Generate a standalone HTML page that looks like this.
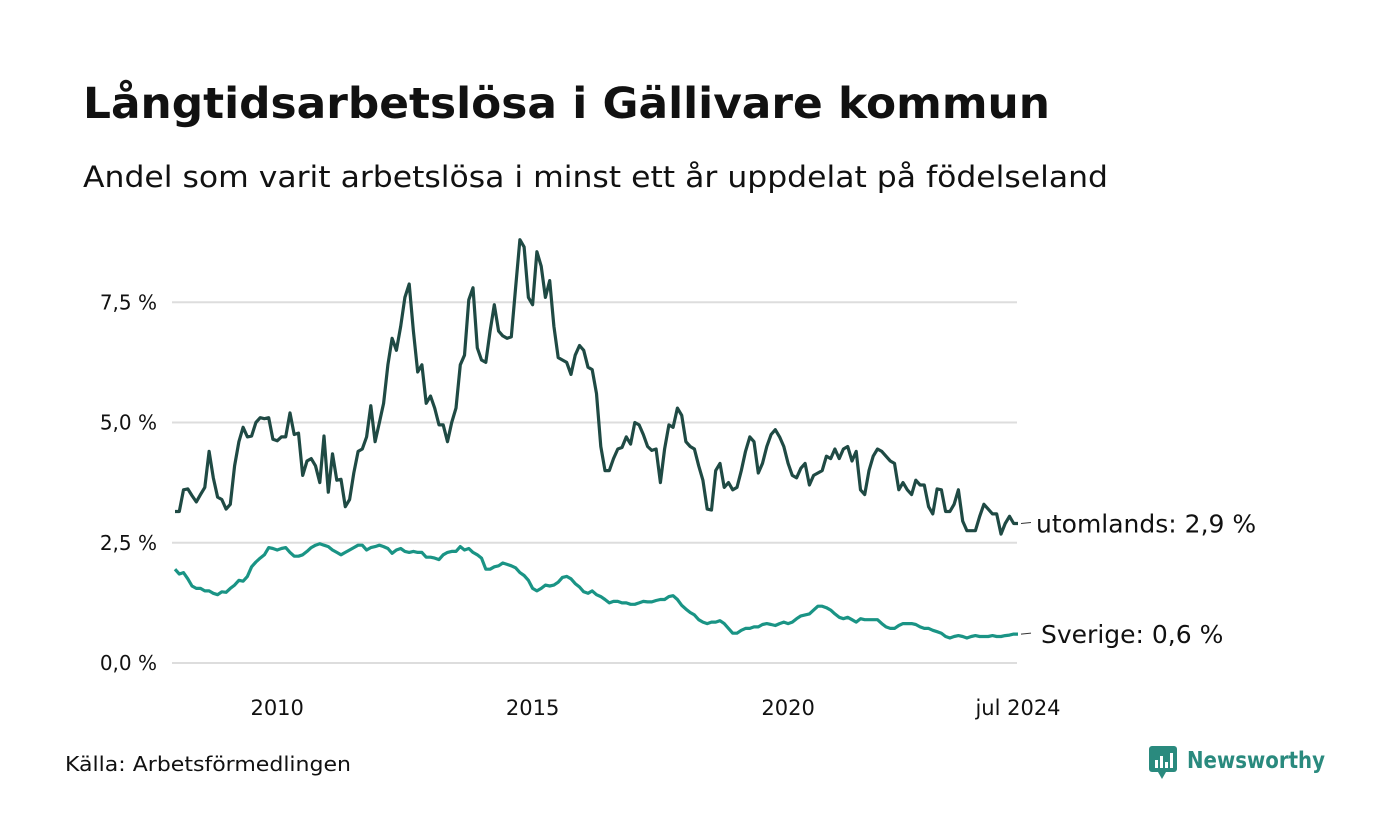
<!DOCTYPE html>
<html><head><meta charset="utf-8"><style>
body{margin:0;background:#fff;font-family:"DejaVu Sans","Liberation Sans",sans-serif;}
svg{display:block}
</style></head><body>
<svg id="c" width="1400" height="840" xmlns="http://www.w3.org/2000/svg" font-family="DejaVu Sans, Liberation Sans, sans-serif">
<text x="83" y="118" font-size="43" font-weight="bold" fill="#111" textLength="967" lengthAdjust="spacingAndGlyphs">Långtidsarbetslösa i Gällivare kommun</text>
<text x="83" y="187" font-size="29" fill="#111" textLength="1025" lengthAdjust="spacingAndGlyphs">Andel som varit arbetslösa i minst ett år uppdelat på födelseland</text>
<g id="grid"></g><g id="lines"></g>
<text x="65" y="771" font-size="20" fill="#111" textLength="286" lengthAdjust="spacingAndGlyphs">Källa: Arbetsförmedlingen</text>
<g>
<rect x="1149" y="746" width="28" height="26" rx="3" fill="#2a8a7e"/>
<polygon points="1158,772 1166,772 1162,779" fill="#2a8a7e"/>
<rect x="1155" y="760" width="3" height="8" fill="#fff"/><rect x="1160" y="756" width="3" height="12" fill="#fff"/><rect x="1165" y="762" width="3" height="6" fill="#fff"/><rect x="1170" y="753" width="3" height="15" fill="#fff"/>
<text x="1187" y="768" font-size="23" font-weight="bold" fill="#2a8a7e" textLength="138" lengthAdjust="spacingAndGlyphs">Newsworthy</text>
</g>
</svg>
<script>
const utomlands=[3.15,3.15,3.6,3.62,3.48,3.35,3.5,3.65,4.4,3.85,3.45,3.4,
3.2,3.3,4.1,4.6,4.9,4.7,4.72,5.0,5.1,5.08,5.1,4.65,
4.62,4.7,4.7,5.2,4.75,4.78,3.9,4.2,4.25,4.1,3.75,4.72,
3.55,4.35,3.8,3.82,3.25,3.4,3.95,4.4,4.45,4.7,5.35,4.6,
5.0,5.4,6.2,6.75,6.5,7.0,7.6,7.88,6.9,6.05,6.2,5.4,
5.55,5.3,4.95,4.95,4.6,5.0,5.3,6.2,6.4,7.55,7.8,6.55,
6.3,6.25,6.9,7.45,6.9,6.8,6.75,6.78,7.8,8.8,8.65,7.6,
7.45,8.55,8.25,7.6,7.95,7.0,6.35,6.3,6.25,6.0,6.4,6.6,
6.5,6.15,6.1,5.6,4.5,4.0,4.0,4.25,4.45,4.48,4.7,4.55,
5.0,4.95,4.75,4.5,4.42,4.45,3.75,4.45,4.95,4.9,5.3,5.15,
4.6,4.5,4.45,4.1,3.8,3.2,3.18,4.0,4.15,3.65,3.75,3.6,
3.65,4.0,4.4,4.7,4.6,3.95,4.15,4.5,4.75,4.85,4.7,4.5,
4.15,3.9,3.85,4.05,4.15,3.7,3.9,3.95,4.0,4.3,4.25,4.45,
4.25,4.45,4.5,4.2,4.4,3.6,3.5,4.0,4.3,4.45,4.4,4.3,
4.2,4.15,3.6,3.75,3.6,3.5,3.8,3.7,3.7,3.25,3.1,3.62,
3.6,3.15,3.15,3.3,3.6,2.95,2.75,2.75,2.75,3.05,3.3,3.2,
3.1,3.1,2.68,2.9,3.05,2.9,2.9];
const sverige=[1.95,1.85,1.88,1.75,1.6,1.55,1.55,1.5,1.5,1.45,1.42,1.48,
1.47,1.55,1.62,1.72,1.7,1.8,2.0,2.1,2.18,2.25,2.4,2.38,
2.35,2.38,2.4,2.3,2.22,2.22,2.25,2.32,2.4,2.45,2.48,2.45,
2.42,2.35,2.3,2.25,2.3,2.35,2.4,2.45,2.45,2.35,2.4,2.42,
2.45,2.42,2.38,2.28,2.35,2.38,2.32,2.3,2.32,2.3,2.3,2.2,
2.2,2.18,2.15,2.25,2.3,2.32,2.32,2.42,2.35,2.38,2.3,2.25,
2.18,1.95,1.95,2.0,2.02,2.08,2.05,2.02,1.98,1.88,1.82,1.72,
1.55,1.5,1.55,1.62,1.6,1.62,1.68,1.78,1.8,1.75,1.65,1.58,
1.48,1.45,1.5,1.42,1.38,1.32,1.25,1.28,1.28,1.25,1.25,1.22,
1.22,1.25,1.28,1.27,1.27,1.3,1.32,1.32,1.38,1.4,1.32,1.2,
1.12,1.05,1.0,0.9,0.85,0.82,0.85,0.85,0.88,0.82,0.72,0.62,
0.62,0.68,0.72,0.72,0.75,0.75,0.8,0.82,0.8,0.78,0.82,0.85,
0.82,0.85,0.92,0.98,1.0,1.02,1.1,1.18,1.18,1.15,1.1,1.02,
0.95,0.92,0.95,0.9,0.85,0.92,0.9,0.9,0.9,0.9,0.82,0.75,
0.72,0.72,0.78,0.82,0.82,0.82,0.8,0.75,0.72,0.72,0.68,0.65,
0.62,0.55,0.52,0.55,0.57,0.55,0.52,0.55,0.57,0.55,0.55,0.55,
0.57,0.55,0.55,0.57,0.58,0.6,0.6];
const yTicks=[0,2.5,5,7.5];
const yTickLabels=["0,0 %","2,5 %","5,0 %","7,5 %"];
const xTicks=[2010,2015,2020,2024.5];
const xTickLabels=["2010","2015","2020","jul 2024"];
const startYear=2008;
const seriesLabels=["utomlands: 2,9 %","Sverige: 0,6 %"];

const NS="http://www.w3.org/2000/svg";
const x0=175,x1=1018,xStartV=2008.0,xEndV=2024.5;
const X=v=>x0+(v-xStartV)/(xEndV-xStartV)*(x1-x0);
const Y=v=>663-v*48.1;
const grid=document.getElementById('grid'),lines=document.getElementById('lines');
function mk(tag,attrs,parent){const e=document.createElementNS(NS,tag);for(const k in attrs)e.setAttribute(k,attrs[k]);parent.appendChild(e);return e;}
yTicks.forEach((t,i)=>{
 const l=mk('line',{x1:172,x2:1017,y1:Y(t),y2:Y(t),stroke:'#dddddd','stroke-width':2},grid);
 
 
 const tx=mk('text',{x:157,y:Y(t)+7,'text-anchor':'end','font-size':20,fill:'#111'},grid);
 tx.textContent=yTickLabels[i];
 
 
});
xTicks.forEach((t,i)=>{
 const tx=mk('text',{x:X(t),y:715,'text-anchor':'middle','font-size':21,fill:'#111'},grid);
 tx.textContent=xTickLabels[i];
 
 
});
function draw(data,color,name,label,dx){
 const pts=data.map((v,i)=>X(startYear+i/12).toFixed(1)+','+Y(v).toFixed(1)).join(' ');
 const p=mk('polyline',{points:pts,fill:'none',stroke:color,'stroke-width':3.2,'stroke-linejoin':'round'},lines);
 
 
 const last=data[data.length-1],ly=Y(last);
 const d=mk('line',{x1:1021,x2:1031,y1:ly,y2:ly-1,stroke:'#333','stroke-width':1},lines);
 
 
 const t=mk('text',{x:1036+dx,y:ly+9,'font-size':25,fill:'#111'},lines);
 t.textContent=label;
 
 
}
draw(utomlands,'#1f4a44','utomlands-line',seriesLabels[0],0);
draw(sverige,'#1a9485','sverige-line',seriesLabels[1],5);
</script>
</body></html>
